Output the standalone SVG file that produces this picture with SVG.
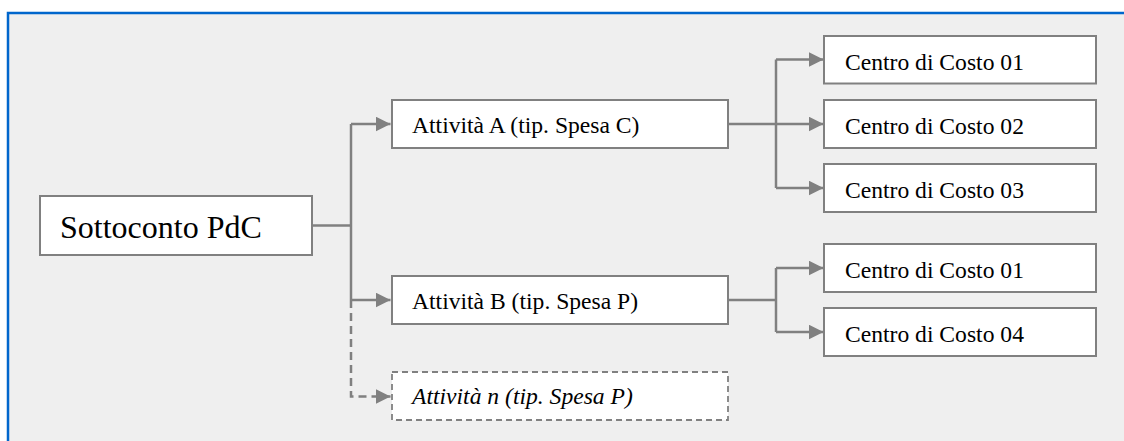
<svg xmlns="http://www.w3.org/2000/svg" width="1124" height="441" viewBox="0 0 1124 441">
<defs>
<style>
.box{fill:#ffffff;stroke:#808080;stroke-width:2}
.dbox{fill:#ffffff;stroke:#808080;stroke-width:1.8;stroke-dasharray:6 4}
.t{fill:#000;font-size:23.6px}
.ti{font-style:italic}
.big{font-size:32px}
.c{fill:none;stroke:#808080;stroke-width:2.5}
.cd{stroke-dasharray:8 5}
</style>
<marker id="ah" markerWidth="15" markerHeight="15" refX="15" refY="7.5" orient="auto" markerUnits="userSpaceOnUse">
<path d="M0,0 L15,7.5 L0,15 Z" fill="#808080"/>
</marker>
</defs>
<rect x="0" y="0" width="1124" height="441" fill="#ffffff"/>
<rect x="8" y="13" width="1130" height="440" fill="#efefef" stroke="#0066cc" stroke-width="2.5"/>
<g id="connectors">
<path class="c" d="M312,225.5 H351"/>
<path class="c" d="M351,124 V300"/>
<path class="c" d="M351,124 H390.5" marker-end="url(#ah)"/>
<path class="c" d="M351,300 H390.5" marker-end="url(#ah)"/>
<path class="c cd" d="M351,300 V396.5 H390.5" marker-end="url(#ah)"/>
<path class="c" d="M728,124 H776"/>
<path class="c" d="M776,59.5 V188"/>
<path class="c" d="M776,59.5 H823.5" marker-end="url(#ah)"/>
<path class="c" d="M776,124 H823.5" marker-end="url(#ah)"/>
<path class="c" d="M776,188 H823.5" marker-end="url(#ah)"/>
<path class="c" d="M728,300 H776"/>
<path class="c" d="M776,268 V332"/>
<path class="c" d="M776,268 H823.5" marker-end="url(#ah)"/>
<path class="c" d="M776,332 H823.5" marker-end="url(#ah)"/>
</g>
<g id="sottoconto">
<rect class="box" x="40" y="196" width="272" height="59"/>
<text class="t big" x="60" y="238" font-family="Times New Roman">Sottoconto PdC</text>
</g>
<g id="attA">
<rect class="box" x="392" y="100" width="336" height="48"/>
<text class="t" x="412" y="133" font-family="Times New Roman">Attività A (tip. Spesa C)</text>
</g>
<g id="attB">
<rect class="box" x="392" y="276" width="336" height="48"/>
<text class="t" x="412" y="309" font-family="Times New Roman">Attività B (tip. Spesa P)</text>
</g>
<g id="attN">
<rect class="dbox" x="392" y="372" width="336" height="48"/>
<text class="t ti" x="412" y="404" font-family="Times New Roman">Attività n (tip. Spesa P)</text>
</g>
<g id="ca01">
<rect class="box" x="824" y="36" width="272" height="47.5"/>
<text class="t" x="845" y="69.5" font-family="Times New Roman">Centro di Costo 01</text>
</g>
<g id="ca02">
<rect class="box" x="824" y="100" width="272" height="48"/>
<text class="t" x="845" y="134" font-family="Times New Roman">Centro di Costo 02</text>
</g>
<g id="ca03">
<rect class="box" x="824" y="164" width="272" height="48"/>
<text class="t" x="845" y="198" font-family="Times New Roman">Centro di Costo 03</text>
</g>
<g id="cb01">
<rect class="box" x="824" y="244" width="272" height="48"/>
<text class="t" x="845" y="278" font-family="Times New Roman">Centro di Costo 01</text>
</g>
<g id="cb04">
<rect class="box" x="824" y="308" width="272" height="48"/>
<text class="t" x="845" y="342" font-family="Times New Roman">Centro di Costo 04</text>
</g>
</svg>
